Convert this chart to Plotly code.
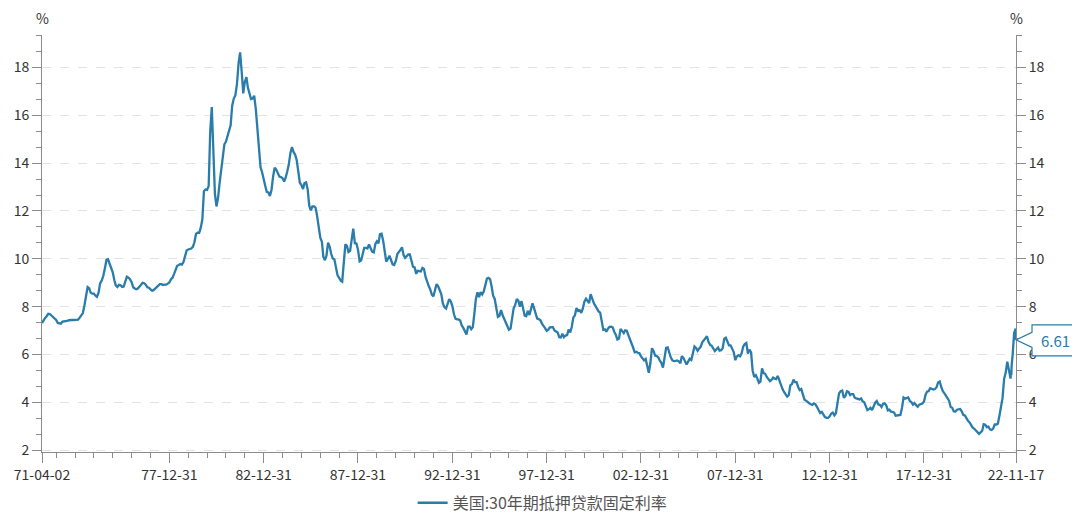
import pandas as pd
import plotly.graph_objects as go

# ---------------- data ----------------
series_name = "美国:30年期抵押贷款固定利率"

# monthly readings, Apr 1971 .. Dec 1979
rates_1970s = [
    7.31, 7.43, 7.53, 7.60, 7.70, 7.69, 7.63, 7.55, 7.48,
    7.44, 7.32, 7.29, 7.29, 7.37, 7.37, 7.40, 7.40, 7.43, 7.45, 7.44, 7.44,
    7.44, 7.44, 7.46, 7.54, 7.65, 7.73, 8.05, 8.50, 8.82, 8.77, 8.58, 8.54,
    8.54, 8.46, 8.41, 8.58, 8.97, 9.09, 9.28, 9.59, 9.96, 9.98, 9.79, 9.62,
    9.43, 9.10, 8.89, 8.82, 8.91, 8.89, 8.82, 8.84, 9.01, 9.25, 9.21, 9.15,
    9.02, 8.81, 8.76, 8.73, 8.76, 8.85, 8.93, 9.00, 8.98, 8.92, 8.81, 8.79,
    8.72, 8.67, 8.69, 8.75, 8.83, 8.86, 8.94, 8.94, 8.90, 8.92, 8.92, 8.96,
    9.01, 9.15, 9.20, 9.36, 9.57, 9.71, 9.74, 9.78, 9.76, 9.86, 10.11, 10.35,
    10.39, 10.41, 10.43, 10.50, 10.69, 11.04, 11.09, 11.09, 11.30, 11.64, 12.83, 12.90,
]
rates_1980s = [
    12.88, 13.04, 15.28, 16.35, 14.26, 12.71, 12.19, 12.56, 13.20, 13.79, 14.21, 14.79,
    14.90, 15.13, 15.40, 15.58, 16.40, 16.70, 16.83, 17.29, 18.16, 18.63, 17.83, 16.92,
    17.40, 17.60, 17.16, 16.89, 16.68, 16.70, 16.82, 16.27, 15.43, 14.61, 13.83, 13.62,
    13.25, 13.04, 12.80, 12.78, 12.63, 12.87, 13.42, 13.81, 13.73, 13.54, 13.44, 13.42,
    13.37, 13.23, 13.39, 13.65, 13.94, 14.42, 14.67, 14.47, 14.35, 14.13, 13.64, 13.18,
    13.08, 12.92, 13.17, 13.20, 12.91, 12.22, 12.03, 12.19, 12.19, 12.14, 11.78, 11.26,
    10.88, 10.71, 10.08, 9.94, 10.14, 10.68, 10.51, 10.20, 10.01, 9.97, 9.70, 9.31,
    9.20, 9.08, 9.04, 9.83, 10.60, 10.54, 10.28, 10.33, 10.89, 11.26, 10.65, 10.64,
    10.38, 9.89, 9.93, 10.20, 10.46, 10.46, 10.43, 10.60, 10.48, 10.30, 10.27, 10.61,
    10.73, 10.65, 11.03, 11.05, 10.77, 10.20, 9.88, 9.99, 10.13, 9.95, 9.77, 9.74,
]
rates_1990s = [
    9.90, 10.20, 10.27, 10.37, 10.48, 10.16, 10.04, 10.10, 10.18, 10.18, 9.90, 9.67,
    9.64, 9.37, 9.50, 9.49, 9.47, 9.62, 9.58, 9.24, 9.01, 8.86, 8.71, 8.50,
    8.43, 8.76, 8.94, 8.85, 8.67, 8.51, 8.13, 7.98, 7.92, 8.09, 8.31, 8.22,
    8.02, 7.68, 7.50, 7.47, 7.47, 7.42, 7.21, 7.11, 6.92, 6.83, 7.16, 7.17,
    7.06, 7.15, 7.68, 8.32, 8.60, 8.40, 8.61, 8.51, 8.64, 8.93, 9.17, 9.20,
    9.15, 8.83, 8.46, 8.32, 7.96, 7.57, 7.61, 7.86, 7.64, 7.48, 7.38, 7.20,
    7.03, 7.08, 7.62, 7.93, 8.07, 8.32, 8.25, 8.00, 8.23, 7.92, 7.62, 7.60,
    7.82, 7.65, 7.90, 8.14, 7.94, 7.69, 7.50, 7.48, 7.43, 7.29, 7.21, 7.10,
    6.99, 7.04, 7.13, 7.14, 7.14, 7.00, 6.95, 6.92, 6.72, 6.71, 6.87, 6.72,
    6.79, 6.81, 7.04, 6.92, 7.15, 7.55, 7.63, 7.94, 7.82, 7.85, 7.74, 7.91,
]
rates_2000s = [
    8.21, 8.33, 8.24, 8.15, 8.52, 8.29, 8.15, 8.03, 7.91, 7.80, 7.75, 7.38,
    7.03, 7.05, 6.95, 7.08, 7.15, 7.16, 7.13, 6.95, 6.82, 6.62, 6.66, 7.07,
    7.00, 6.89, 7.01, 6.99, 6.81, 6.65, 6.49, 6.29, 6.09, 6.11, 6.07, 6.05,
    5.92, 5.84, 5.75, 5.81, 5.48, 5.23, 5.63, 6.26, 6.15, 5.95, 5.93, 5.88,
    5.74, 5.64, 5.45, 5.83, 6.27, 6.29, 6.06, 5.87, 5.75, 5.72, 5.73, 5.75,
    5.71, 5.63, 5.93, 5.86, 5.72, 5.58, 5.70, 5.82, 5.77, 6.07, 6.33, 6.27,
    6.15, 6.25, 6.32, 6.51, 6.60, 6.68, 6.76, 6.52, 6.40, 6.36, 6.24, 6.14,
    6.22, 6.29, 6.16, 6.18, 6.26, 6.66, 6.70, 6.57, 6.38, 6.38, 6.21, 6.10,
    5.76, 5.92, 5.97, 5.92, 6.04, 6.32, 6.43, 6.48, 6.04, 6.20, 6.09, 5.33,
    5.06, 5.13, 5.00, 4.81, 4.86, 5.42, 5.22, 5.19, 5.06, 4.95, 4.88, 4.93,
]
rates_2010s = [
    5.03, 4.99, 4.97, 5.10, 4.89, 4.74, 4.56, 4.43, 4.35, 4.23, 4.30, 4.71,
    4.76, 4.95, 4.84, 4.84, 4.64, 4.51, 4.55, 4.27, 4.11, 4.07, 3.99, 3.96,
    3.92, 3.89, 3.95, 3.91, 3.80, 3.68, 3.55, 3.60, 3.50, 3.38, 3.35, 3.35,
    3.41, 3.53, 3.57, 3.45, 3.54, 4.07, 4.37, 4.46, 4.49, 4.19, 4.26, 4.46,
    4.43, 4.30, 4.34, 4.34, 4.19, 4.16, 4.13, 4.12, 4.16, 4.04, 4.00, 3.86,
    3.67, 3.71, 3.77, 3.67, 3.84, 3.98, 4.05, 3.91, 3.89, 3.80, 3.94, 3.96,
    3.87, 3.66, 3.69, 3.61, 3.60, 3.57, 3.44, 3.44, 3.46, 3.47, 3.77, 4.20,
    4.15, 4.17, 4.20, 4.05, 4.01, 3.90, 3.97, 3.88, 3.81, 3.90, 3.92, 3.95,
    4.03, 4.33, 4.44, 4.47, 4.59, 4.57, 4.53, 4.55, 4.63, 4.83, 4.87, 4.64,
    4.46, 4.37, 4.27, 4.14, 4.07, 3.80, 3.77, 3.62, 3.61, 3.69, 3.70, 3.72,
]
# Jan 2020 .. Jul 2022
rates_2020s = [
    3.62, 3.47, 3.45, 3.31, 3.23, 3.16, 3.02, 2.94, 2.89, 2.83, 2.77, 2.68,
    2.74, 2.81, 3.08, 3.06, 2.96, 2.98, 2.87, 2.84, 2.90, 3.07, 3.07, 3.10,
    3.45, 3.76, 4.17, 4.98, 5.23, 5.70, 5.41,
]
# weekly readings, Aug .. 17 Nov 2022
weekly_dates_2022 = [
    "2022-08-04", "2022-08-11", "2022-08-18", "2022-08-25", "2022-09-01",
    "2022-09-08", "2022-09-15", "2022-09-22", "2022-09-29", "2022-10-06",
    "2022-10-13", "2022-10-20", "2022-10-27", "2022-11-03", "2022-11-10",
    "2022-11-17",
]
weekly_rates_2022 = [
    4.99, 5.22, 5.13, 5.55, 5.66, 5.89, 6.02, 6.29, 6.70, 6.66,
    6.92, 6.94, 7.08, 6.95, 7.08, 6.61,
]

tick_dates = ["1971-04-02", "1977-12-31", "1982-12-31", "1987-12-31", "1992-12-31",
              "1997-12-31", "2002-12-31", "2007-12-31", "2012-12-31", "2017-12-31",
              "2022-11-17"]
tick_labels = ["71-04-02", "77-12-31", "82-12-31", "87-12-31", "92-12-31",
               "97-12-31", "02-12-31", "07-12-31", "12-12-31", "17-12-31",
               "22-11-17"]
y_ticks = [2, 4, 6, 8, 10, 12, 14, 16, 18]

# ---------------- build series ----------------
monthly = rates_1970s + rates_1980s + rates_1990s + rates_2000s + rates_2010s + rates_2020s
month_dates = pd.date_range(start="1971-05-01", periods=len(monthly) - 1, freq="MS")
dates = [pd.Timestamp("1971-04-02")] + list(month_dates) + [pd.Timestamp(d) for d in weekly_dates_2022]
values = monthly + weekly_rates_2022

LINE = "#2a7cab"
TXT = "#333333"
AX = "#8c8c8c"
W, H = 1080, 516
# the page body adds an 8px offset, so margins are shifted by 8px
ML, MR, MT, MB = 34, 72, 27, 72
PH = H - MT - MB
PW = W - ML - MR
YR = [1.92, 19.36]
FONT = "Noto Sans CJK SC"

fig = go.Figure()
fig.add_trace(go.Scatter(x=dates, y=values, mode="lines", name=series_name,
                         line=dict(color=LINE, width=2.3), yaxis="y"))
fig.add_trace(go.Scatter(x=dates, y=values, mode="lines", showlegend=False,
                         line=dict(color=LINE, width=0), opacity=0, hoverinfo="skip",
                         yaxis="y2"))

yaxis_common = dict(
    range=YR, tickvals=y_ticks, ticks="outside", ticklen=9, tickcolor=AX,
    showline=True, linecolor=AX, linewidth=1, zeroline=False, automargin=False,
    tickfont=dict(size=14, color=TXT, family=FONT),
    minor=dict(tick0=2, dtick=2 / 3, ticks="outside", ticklen=5, tickcolor=AX, showgrid=False),
)

fig.update_layout(
    width=W, height=H,
    margin=dict(l=ML, r=MR, t=MT, b=MB, autoexpand=False),
    paper_bgcolor="white", plot_bgcolor="white",
    font=dict(family=FONT, color=TXT, size=14),
    xaxis=dict(
        type="date", range=["1971-04-02", "2022-11-17"],
        tickvals=tick_dates, ticktext=tick_labels,
        ticks="outside", ticklen=10, tickcolor=AX, automargin=False,
        showline=True, linecolor=AX, linewidth=1, showgrid=False, zeroline=False,
        tickfont=dict(size=14, color=TXT, family=FONT),
        minor=dict(tick0="1972-12-31", dtick="M12", ticks="outside", ticklen=5,
                   tickcolor=AX, showgrid=False),
    ),
    yaxis=dict(**yaxis_common, side="left", showgrid=True, gridcolor="#e3e3e3",
               griddash="dash", gridwidth=1),
    yaxis2=dict(**yaxis_common, side="right", overlaying="y", showgrid=False),
    legend=dict(orientation="h", x=0.514, xanchor="center", y=-0.122, yanchor="middle",
                font=dict(size=16, color="#555555", family=FONT), itemwidth=30),
    showlegend=True,
)

# "%" unit labels
for xp in (0, 1):
    fig.add_annotation(xref="paper", yref="paper", x=xp, y=1, yshift=17,
                       xanchor="center", yanchor="middle", text="%", showarrow=False,
                       font=dict(size=14, color=TXT, family=FONT))

# callout box for the last value
last = values[-1]


def px_x(p):
    return (p - ML) / PW


def py_y(p):
    return (H - MB - p) / PH


tip_py = MT + (YR[1] - last) / (YR[1] - YR[0]) * PH
bx0, bx1 = W - MR + 16, W - MR + 62
pts = [(W - MR, tip_py), (bx0, tip_py - 7.5), (bx0, tip_py - 15), (bx1, tip_py - 15),
       (bx1, tip_py + 16), (bx0, tip_py + 16), (bx0, tip_py + 7.5)]
path = "M " + " L ".join(f"{px_x(a):.5f},{py_y(b):.5f}" for a, b in pts) + " Z"
fig.add_shape(type="path", path=path, xref="paper", yref="paper",
              line=dict(color=LINE, width=1.2), fillcolor="white", layer="above")
fig.add_annotation(xref="paper", yref="paper", x=px_x((bx0 + bx1) / 2), y=py_y(tip_py + 0.5),
                   xanchor="center", yanchor="middle",
                   text=f"{last:.2f}", showarrow=False,
                   font=dict(size=15, color=LINE, family=FONT))

fig.write_html("out.html")
